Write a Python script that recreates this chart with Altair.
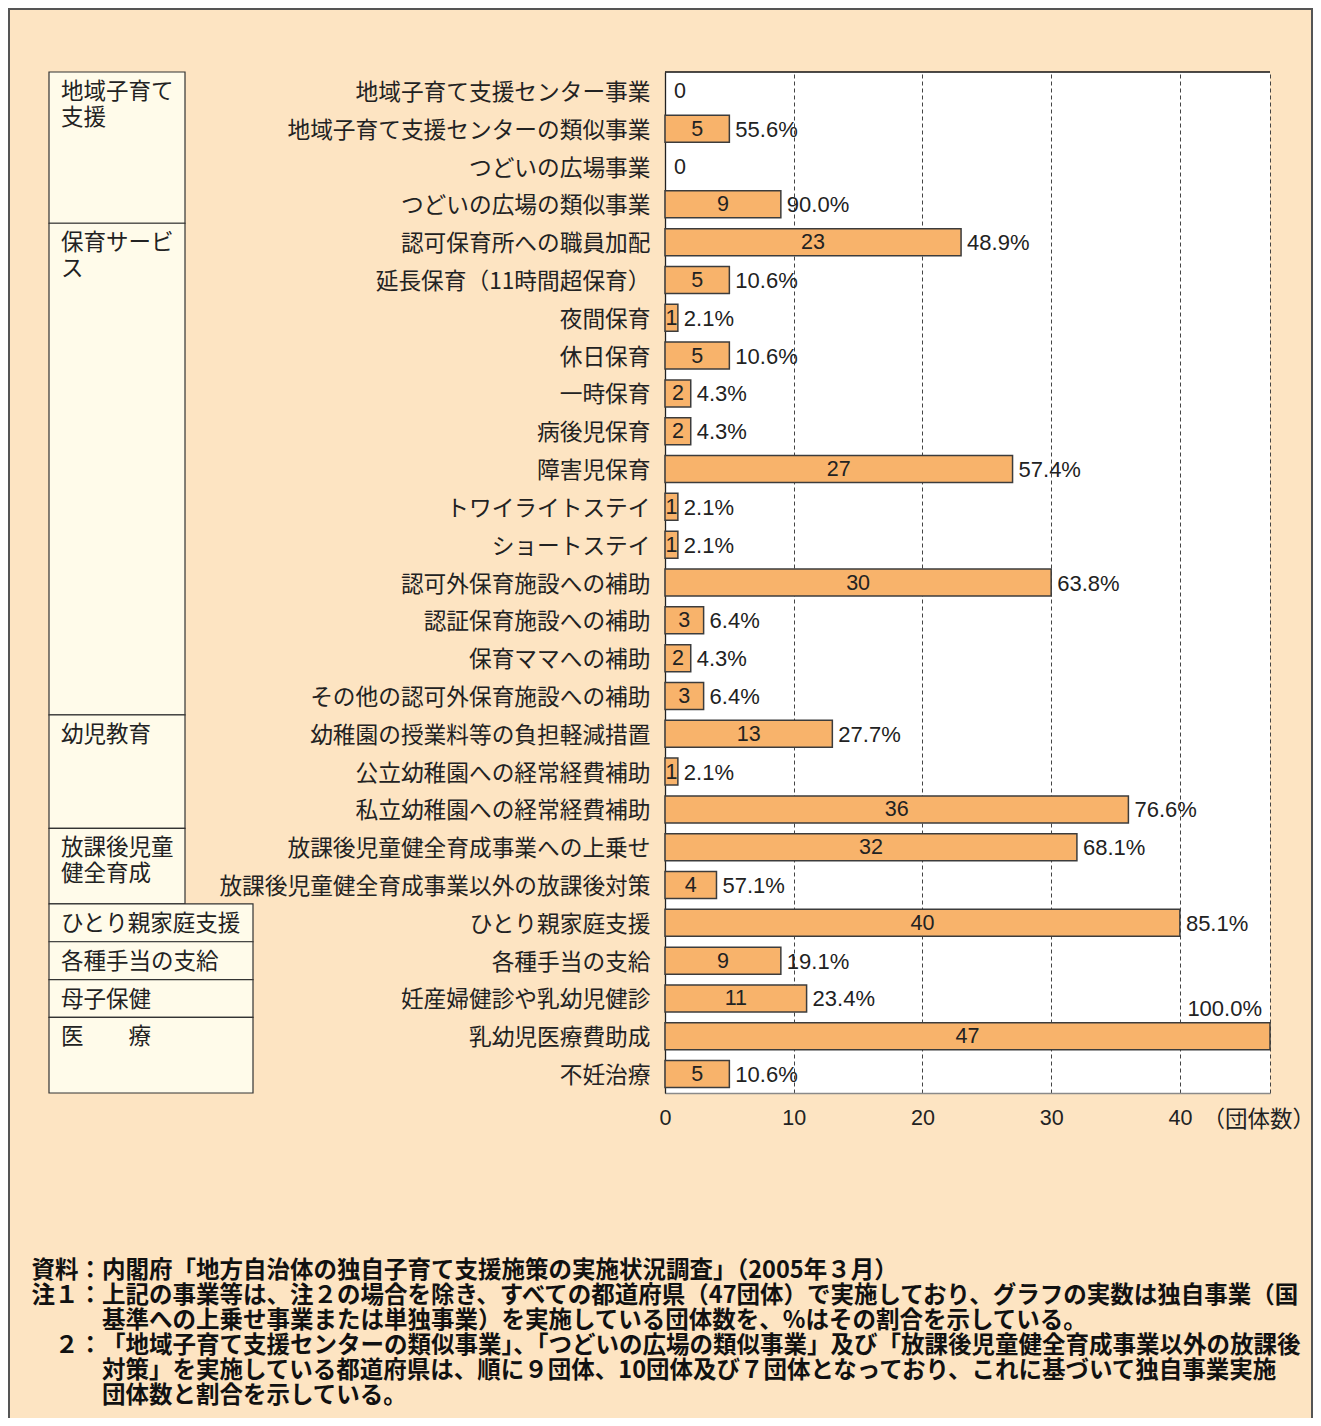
import altair as alt
import pandas as pd

items = [
    "地域子育て支援センター事業", "地域子育て支援センターの類似事業", "つどいの広場事業", "つどいの広場の類似事業",
    "認可保育所への職員加配", "延長保育（11時間超保育）", "夜間保育", "休日保育", "一時保育", "病後児保育",
    "障害児保育", "トワイライトステイ", "ショートステイ", "認可外保育施設への補助", "認証保育施設への補助",
    "保育ママへの補助", "その他の認可外保育施設への補助",
    "幼稚園の授業料等の負担軽減措置", "公立幼稚園への経常経費補助", "私立幼稚園への経常経費補助",
    "放課後児童健全育成事業への上乗せ", "放課後児童健全育成事業以外の放課後対策",
    "ひとり親家庭支援", "各種手当の支給", "妊産婦健診や乳幼児健診", "乳幼児医療費助成", "不妊治療",
]
counts = [0, 5, 0, 9, 23, 5, 1, 5, 2, 2, 27, 1, 1, 30, 3, 2, 3, 13, 1, 36, 32, 4, 40, 9, 11, 47, 5]
pcts = ["", "55.6%", "", "90.0%", "48.9%", "10.6%", "2.1%", "10.6%", "4.3%", "4.3%", "57.4%", "2.1%",
        "2.1%", "63.8%", "6.4%", "4.3%", "6.4%", "27.7%", "2.1%", "76.6%", "68.1%", "57.1%", "85.1%",
        "19.1%", "23.4%", "100.0%", "10.6%"]
groups = ["地域子育て\n支援", "保育サービ\nス", "幼児教育", "放課後児童\n健全育成",
          "ひとり親家庭支援", "各種手当の支給", "母子保健", "医　　療"]
item_group = ([groups[0]] * 4 + [groups[1]] * 13 + [groups[2]] * 3 + [groups[3]] * 2 +
              [groups[4], groups[5], groups[6], groups[7], groups[7]])

note_heads_a = "資料：\n注１："
note_heads_b = "２："
note_lines = [
    "内閣府「地方自治体の独自子育て支援施策の実施状況調査」（2005年３月）",
    "上記の事業等は、注２の場合を除き、すべての都道府県（47団体）で実施しており、グラフの実数は独自事業（国",
    "基準への上乗せ事業または単独事業）を実施している団体数を、%はその割合を示している。",
    "「地域子育て支援センターの類似事業」、「つどいの広場の類似事業」及び「放課後児童健全育成事業以外の放課後",
    "対策」を実施している都道府県は、順に９団体、10団体及び７団体となっており、これに基づいて独自事業実施",
    "団体数と割合を示している。",
]

df = pd.DataFrame({"item": items, "count": counts, "pct": pcts, "grp": item_group})

rows = []
for gi, g in enumerate(groups):
    idx = [i for i, v in enumerate(item_group) if v == g]
    rows.append({"grp": g, "gidx": gi, "start": min(idx), "end": max(idx) + 1})
boxes = pd.DataFrame(rows)

JP = "Noto Sans CJK JP"
NUM = "Liberation Sans"
TXT = "#222222"
BAR = "#F8B36B"
BG = "#FDE4C2"

W, H = 605, 1021
LH = 25

x_scale = alt.Scale(domain=[0, 47], nice=False, zero=True)
x_axis = alt.Axis(
    values=[0, 10, 20, 30, 40, 47],
    labelExpr="datum.value == 47 ? '' : datum.label",
    grid=True, gridDash=[4, 3], gridColor="#444444", gridWidth=1,
    domain=True, domainColor="#8a8a8a", domainWidth=1.5,
    ticks=False, labelPadding=14, labelFlush=False,
    labelFont=NUM, labelFontSize=21.5, labelColor=TXT,
    title="（団体数）", titleX=537, titleY=26, titleAlign="left", titleBaseline="middle",
    titleFont=JP, titleFontSize=22.5, titleFontWeight="normal", titleColor=TXT,
)
y_scale = alt.Scale(domain=items, paddingInner=0.286, paddingOuter=0.143)
y_axis = alt.Axis(
    title=None, domain=True, domainColor="#222222", domainWidth=1.3, ticks=False,
    labelPadding=15, labelOffset=2, labelFont=JP, labelFontSize=22.7, labelColor=TXT,
    labelLimit=700, grid=False,
)
y_enc = alt.Y("item:N", scale=y_scale, axis=y_axis)

base = alt.Chart(df)

bars = base.transform_filter("datum.count > 0").mark_bar(
    fill=BAR, stroke="#3c3c3c", strokeWidth=1.5
).encode(x=alt.X("count:Q", scale=x_scale, axis=x_axis), y=y_enc)

count_lbl = base.transform_filter("datum.count > 0").transform_calculate(
    mid="datum.count / 2"
).mark_text(font=NUM, fontSize=21.5, color=TXT, align="center", baseline="middle", dy=1).encode(
    x=alt.X("mid:Q", scale=x_scale), y=y_enc, text="count:Q"
)

zero_lbl = base.transform_filter("datum.count == 0").mark_text(
    font=NUM, fontSize=21.5, color=TXT, align="left", baseline="middle", dx=9, dy=1
).encode(x=alt.X("count:Q", scale=x_scale), y=y_enc, text="count:Q")

pct_lbl = base.transform_joinaggregate(maxc="max(count)").transform_filter(
    "datum.pct != '' && datum.count < datum.maxc"
).mark_text(font=NUM, fontSize=22, color=TXT, align="left", baseline="middle", dx=6, dy=1).encode(
    x=alt.X("count:Q", scale=x_scale), y=y_enc, text="pct:N"
)

pct_full = base.transform_joinaggregate(maxc="max(count)").transform_filter(
    "datum.count == datum.maxc"
).mark_text(font=NUM, fontSize=22, color=TXT, align="right", baseline="middle", dx=-8, dy=-27).encode(
    x=alt.X("count:Q", scale=x_scale), y=y_enc, text="pct:N"
)

top_line = alt.Chart(pd.DataFrame({"a": [0]})).mark_rule(color="#111111", strokeWidth=1.5).encode(
    x=alt.datum(0, scale=x_scale), x2=alt.datum(47), y=alt.value(0)
)

bar_part = alt.layer(bars, count_lbl, zero_lbl, pct_lbl, pct_full, top_line)

row_scale = alt.Scale(domain=[0, len(items)], reverse=True, nice=False, zero=False)
bx = alt.Chart(boxes)
narrow = bx.transform_filter("datum.gidx < 4").mark_rect(
    fill="#FFFBEA", stroke="#333333", strokeWidth=1.2
).encode(
    y=alt.Y("start:Q", scale=row_scale, axis=None), y2="end:Q",
    x=alt.value(-616), x2=alt.value(-480),
)
wide = bx.transform_filter("datum.gidx >= 4").mark_rect(
    fill="#FFFBEA", stroke="#333333", strokeWidth=1.2
).encode(
    y=alt.Y("start:Q", scale=row_scale, axis=None), y2="end:Q",
    x=alt.value(-616), x2=alt.value(-412),
)
grp_lbl = bx.mark_text(
    font=JP, fontSize=22.5, color=TXT, align="left", baseline="top", dy=9, lineBreak="\n", lineHeight=26
).encode(y=alt.Y("start:Q", scale=row_scale, axis=None), x=alt.value(-604), text="grp:N")

one = alt.Chart(pd.DataFrame({"a": [0]}))
NOTE_Y = 1187
note_style = dict(font=JP, fontSize=23.5, fontWeight="bold", color="#111111", baseline="top",
                  lineBreak="\n", lineHeight=LH)
heads_a = one.mark_text(align="right", text=note_heads_a, **note_style).encode(
    x=alt.value(-563), y=alt.value(NOTE_Y))
heads_b = one.mark_text(align="right", text=note_heads_b, **note_style).encode(
    x=alt.value(-563), y=alt.value(NOTE_Y + 3 * LH))
notes = one.mark_text(align="left", text="\n".join(note_lines), **note_style).encode(
    x=alt.value(-563), y=alt.value(NOTE_Y))

frame = one.mark_rect(fill=None, stroke="#555555", strokeWidth=2).encode(
    x=alt.value(-656), x2=alt.value(W + 42), y=alt.value(-63), y2=alt.value(H + 340)
)

box_part = alt.layer(frame, narrow, wide, grp_lbl, heads_a, heads_b, notes)

chart = alt.layer(box_part, bar_part).resolve_scale(y="independent").properties(
    width=W, height=H,
    autosize=alt.AutoSizeParams(type="none"),
    padding={"left": 657, "top": 64, "right": 43, "bottom": 325},
    background=BG,
).configure_view(stroke=None, fill="white")

chart.save("out.html", embed_options={"renderer": "svg", "actions": False})
